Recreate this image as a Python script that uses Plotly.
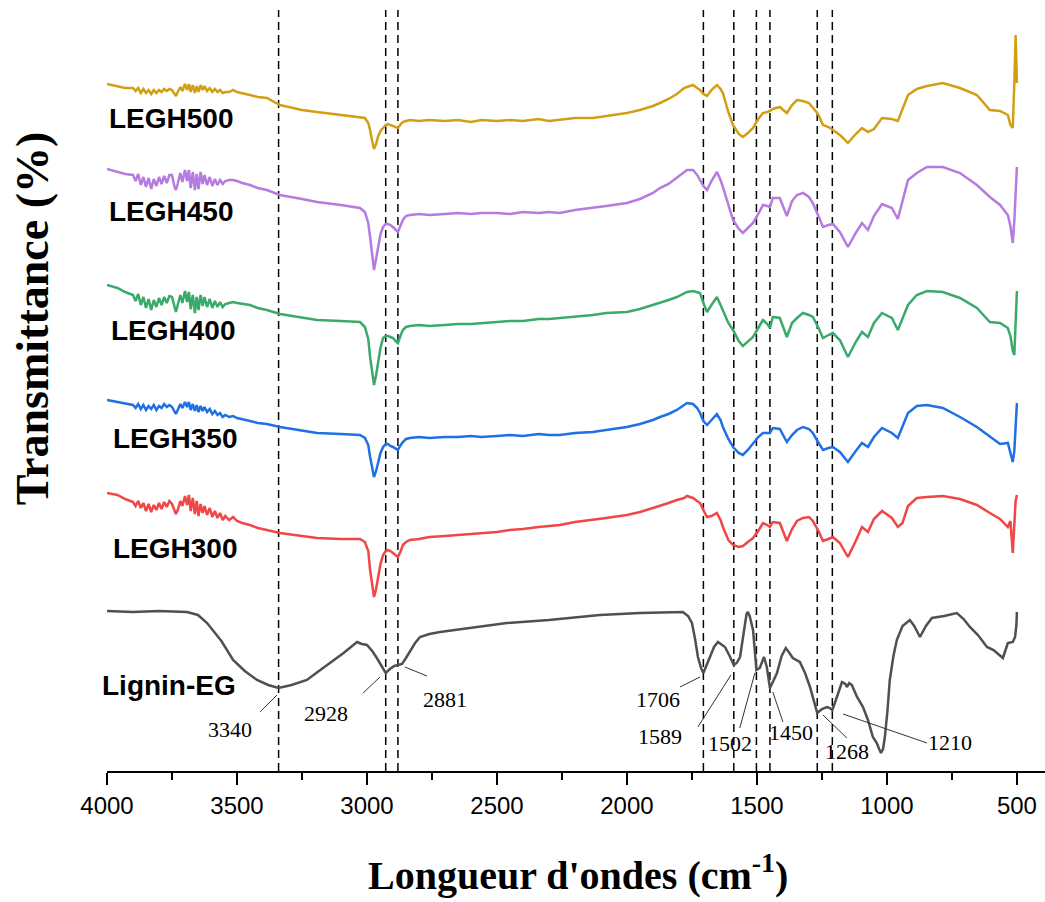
import plotly.graph_objects as go

# ---------------- data (wavenumber in cm-1, transmittance in arbitrary units) ----------------
noise_wn = [3890, 3880, 3870, 3860, 3850, 3840, 3830, 3820, 3810, 3800, 3790, 3780, 3770, 3760,
            3750, 3740, 3735, 3728, 3718, 3710, 3700, 3692, 3685, 3678, 3670, 3662, 3655, 3648,
            3640, 3632, 3625, 3615, 3605, 3595, 3585, 3575, 3565, 3555, 3545]

wn_legh = ([4000, 3960, 3930, 3900] + noise_wn +
           [3530, 3515, 3500, 3480, 3450, 3420, 3385, 3335, 3250, 3192, 3100, 3027, 3008, 2995, 2988,
            2980, 2973, 2965, 2958, 2948, 2938, 2928, 2919, 2910, 2900, 2890, 2881, 2870, 2862, 2850,
            2835, 2800, 2760, 2700, 2650, 2600, 2560, 2500, 2450, 2400, 2340, 2300, 2258, 2200, 2131,
            2080, 2000, 1950, 1900, 1873, 1840, 1808,
            1780, 1769, 1746, 1730, 1719, 1706, 1692,
            1675, 1654, 1640, 1631, 1610, 1592, 1570, 1554, 1535, 1515, 1495, 1477, 1460, 1450, 1439,
            1412, 1385, 1365, 1346, 1323, 1300, 1285, 1265, 1246, 1225, 1208, 1181, 1165, 1150, 1120,
            1096, 1073, 1050, 1019, 981, 958, 940, 919, 885, 846, 785, 719, 654, 604, 565, 535, 525,
            516, 510, 505, 500])

t_legh500 = [127, 125, 123, 123,
             120, 123, 118, 122, 118, 121, 117, 121, 118, 121, 119, 122, 120, 122,
             121, 117, 115, 119, 124, 120, 127, 121, 127, 119, 126, 118, 125, 119,
             126, 121, 125, 120, 123, 119, 122, 119, 121, 118, 119,
             119, 121, 119, 118, 116, 114, 113, 106, 101, 99, 96, 94, 93, 88, 81,
             70, 62, 67, 74, 80, 83, 86, 87, 86, 85, 84, 83, 87, 89, 90,
             91, 90, 91, 90, 91, 89, 91, 90, 91, 90, 92, 90, 91, 93, 93,
             95, 98, 101, 105, 108, 112, 117,
             123, 124, 126, 123, 121, 117, 115,
             121, 126, 122, 118, 99, 86, 77, 74, 78, 83, 92, 98, 99, 100, 102,
             104, 98, 106, 111, 110, 108, 103, 97, 86, 84, 81, 76, 72, 68, 77,
             83, 79, 82, 93, 92, 90, 102, 116, 122, 125, 128, 123, 116, 101, 100, 96, 86,
             83, 128, 176, 128]

t_legh450 = [142, 139, 137, 136,
             130, 137, 126, 134, 124, 133, 122, 132, 125, 134, 127, 135, 128, 136,
             136, 124, 121, 127, 138, 129, 141, 130, 141, 123, 139, 121, 137, 122,
             139, 127, 136, 126, 134, 125, 132, 126, 131, 127, 130,
             131, 131, 130, 128, 126, 123, 121, 116, 112, 109, 106, 103, 99, 88, 74,
             55, 41, 52, 64, 77, 84, 87, 87, 86, 84, 81, 79, 86, 91, 95,
             96, 97, 96, 97, 98, 97, 98, 98, 97, 99, 98, 99, 98, 101, 103,
             105, 108, 112, 118, 123, 127, 133,
             139, 141, 141, 136, 131, 125, 121,
             130, 139, 131, 124, 105, 91, 82, 78, 83, 88, 97, 106, 105, 104, 113,
             113, 95, 110, 116, 118, 114, 108, 96, 84, 86, 87, 79, 71, 64, 78,
             88, 81, 95, 107, 103, 92, 110, 131, 138, 144, 144, 138, 126, 114, 106, 96, 85,
             68, 90, 125, 144]

t_legh400 = [146, 143, 139, 136,
             130, 137, 126, 134, 123, 132, 121, 131, 124, 133, 126, 134, 128, 135,
             134, 122, 119, 126, 136, 128, 140, 129, 139, 122, 136, 118, 134, 121,
             136, 125, 134, 124, 132, 123, 130, 124, 129, 124, 127,
             128, 129, 128, 127, 126, 123, 121, 117, 113, 111, 110, 109, 104, 92, 74,
             58, 46, 56, 69, 83, 93, 95, 95, 94, 93, 90, 88, 96, 101, 104,
             105, 106, 105, 106, 107, 107, 108, 109, 110, 110, 112, 112, 113, 115, 116,
             118, 119, 122, 126, 128, 131, 134,
             138, 139, 140, 139, 138, 128, 119,
             126, 134, 126, 121, 108, 101, 90, 85, 89, 94, 103, 111, 107, 103, 114,
             113, 94, 108, 113, 118, 116, 114, 104, 93, 96, 98, 91, 82, 74, 89,
             99, 94, 108, 118, 113, 101, 113, 126, 136, 140, 139, 133, 123, 109, 108, 103, 95,
             80, 76, 110, 140]

t_legh350 = [141, 139, 137, 136,
             133, 137, 132, 136, 131, 135, 132, 136, 131, 135, 133, 137, 134, 136,
             134, 129, 127, 131, 137, 133, 139, 134, 139, 131, 137, 130, 136, 129,
             135, 130, 134, 129, 132, 127, 130, 126, 128, 124, 126,
             124, 125, 123, 122, 120, 118, 117, 114, 110, 108, 107, 106, 103, 96, 84,
             72, 64, 70, 78, 88, 94, 97, 97, 95, 94, 92, 91, 96, 99, 102,
             103, 104, 103, 104, 104, 105, 104, 105, 106, 105, 107, 106, 106, 108, 109,
             111, 114, 117, 121, 124, 127, 131,
             136, 138, 137, 133, 128, 120, 116,
             121, 127, 121, 114, 102, 94, 88, 86, 91, 98, 104, 108, 108, 108, 113,
             112, 99, 106, 111, 114, 112, 108, 99, 91, 93, 94, 89, 84, 79, 90,
             98, 94, 104, 113, 108, 103, 115, 128, 135, 136, 133, 124, 114, 104, 97, 98, 88,
             79, 90, 120, 138]

t_legh300 = [158, 156, 152, 149,
             145, 150, 143, 148, 140, 147, 139, 146, 141, 148, 142, 149, 144, 150,
             147, 140, 137, 141, 150, 145, 155, 146, 156, 140, 153, 137, 150, 135,
             147, 138, 145, 136, 143, 134, 140, 133, 138, 131, 135,
             131, 134, 130, 128, 126, 123, 121, 118, 115, 113, 112, 112, 109, 100, 81,
             65, 54, 62, 74, 87, 96, 100, 101, 100, 98, 96, 94, 100, 106, 109,
             111, 112, 114, 115, 116, 117, 118, 119, 121, 122, 124, 125, 126, 129, 131,
             133, 136, 139, 143, 145, 148, 151,
             153, 155, 153, 150, 148, 141, 134,
             135, 138, 131, 124, 111, 106, 104, 105, 109, 113, 120, 128, 126, 124, 129,
             128, 110, 122, 130, 133, 134, 130, 121, 110, 112, 114, 108, 101, 94, 110,
             124, 119, 132, 140, 133, 124, 128, 145, 153, 154, 155, 152, 146, 138, 132, 124, 130,
             98, 125, 150, 156]

wn_lignin = [4000, 3900, 3800, 3692, 3650, 3615, 3560, 3515, 3470, 3423, 3380, 3340, 3290, 3231,
             3190, 3142, 3090, 3038, 3020, 3000, 2980, 2962, 2945, 2928, 2912, 2895, 2881, 2865,
             2850, 2835, 2815, 2796, 2760, 2719, 2600, 2462, 2300, 2104, 1950, 1850, 1785, 1765,
             1750, 1738, 1727, 1715, 1706, 1695, 1681, 1665, 1650, 1637, 1623, 1605, 1589, 1578,
             1565, 1550, 1540, 1535, 1528, 1515, 1508, 1502, 1489, 1473, 1462, 1450, 1437, 1423,
             1405, 1389, 1375, 1362, 1335, 1315, 1296, 1280, 1268, 1250, 1231, 1220, 1210, 1195,
             1173, 1160, 1154, 1145, 1135, 1125, 1115, 1092, 1073, 1054, 1039, 1030, 1023, 1015,
             1008, 998, 989, 975, 962, 940, 912, 895, 873, 850, 827, 780, 731, 705, 681, 650, 615,
             590, 565, 554, 545, 535, 516, 507, 502, 500]
t_lignin = [160, 159, 160, 159, 156, 148, 130, 111, 100, 91, 86, 83, 86, 91,
            99, 108, 118, 129, 127, 126, 120, 113, 105, 98, 102, 105, 106, 107,
            113, 119, 128, 134, 137, 139, 143, 148, 151, 156, 158, 159, 159, 155,
            148, 132, 114, 103, 98, 105, 114, 124, 129, 127, 124, 115, 106, 108,
            114, 140, 157, 159, 155, 141, 120, 101, 103, 114, 104, 83, 90, 98,
            115, 123, 118, 113, 109, 98, 84, 70, 58, 62, 64, 63, 61, 72,
            89, 87, 84, 88, 86, 80, 74, 64, 51, 34, 28, 22, 18, 22,
            34, 60, 91, 115, 131, 145, 151, 145, 134, 145, 153, 155, 158, 152, 144, 136, 124,
            121, 116, 113, 120, 128, 129, 134, 146, 159]

series_names = ["LEGH500", "LEGH450", "LEGH400", "LEGH350", "LEGH300", "Lignin-EG"]
series_wn = [wn_legh, wn_legh, wn_legh, wn_legh, wn_legh, wn_lignin]
series_t = [t_legh500, t_legh450, t_legh400, t_legh350, t_legh300, t_lignin]

peaks = [3340, 2928, 2881, 1706, 1589, 1502, 1450, 1268, 1210]
x_ticks = [4000, 3500, 3000, 2500, 2000, 1500, 1000, 500]

# ---------------- styling / layout ----------------
offsets = [560, 460, 340, 230, 120, 0]
colors = ["#d29f14", "#b57be0", "#3aaa6a", "#1f6fe5", "#f04646", "#505050"]
label_pos = [(3752, 653), (3752, 560), (3744, 441), (3738, 333), (3737, 223), (3760, 86)]

fig = go.Figure()
for name, wn, t, off, col in zip(series_names, series_wn, series_t, offsets, colors):
    fig.add_trace(go.Scatter(x=wn, y=[v + off for v in t], mode="lines", name=name,
                             line=dict(color=col, width=2.5), showlegend=False))

for p in peaks:
    fig.add_shape(type="line", x0=p, x1=p, y0=0, y1=1, xref="x", yref="paper",
                  line=dict(color="black", width=1.5, dash="8px,5px"), layer="below")

# trace labels
for name, (lx, ly) in zip(series_names, label_pos):
    fig.add_annotation(x=lx, y=ly, xref="x", yref="y", text="<b>%s</b>" % name, showarrow=False,
                       xanchor="center", yanchor="middle",
                       font=dict(family="Liberation Sans, Arial", size=28, color="black"))

# peak labels with leader lines (text position, leader start, leader end)
peak_labels = [
    ("3340", (3527, 42), (3412, 59), (3346, 76)),
    ("2928", (3158, 58), (3015, 78), (2950, 94)),
    ("2881", (2700, 72), (2854, 104), (2769, 95)),
    ("1706", (1881, 72), (1796, 84), (1719, 94)),
    ("1589", (1873, 35), (1727, 44), (1600, 96)),
    ("1502", (1604, 28), (1566, 43), (1508, 98)),
    ("1450", (1369, 39), (1400, 49), (1439, 79)),
    ("1268", (1154, 20), (1154, 33), (1246, 56)),
    ("1210", (758, 29), (846, 28), (1169, 57)),
]
for txt, (tx, ty), (ax0, ay0), (ax1, ay1) in peak_labels:
    fig.add_shape(type="line", x0=ax0, y0=ay0, x1=ax1, y1=ay1, xref="x", yref="y",
                  line=dict(color="#333333", width=1))
    fig.add_annotation(x=tx, y=ty, xref="x", yref="y", text=txt, showarrow=False,
                       xanchor="center", yanchor="middle",
                       font=dict(family="Liberation Serif, Times New Roman", size=22, color="black"))

# axis titles
fig.add_annotation(x=0.502, y=-0.133, xref="paper", yref="paper", xanchor="center", yanchor="middle",
                   text="<b>Longueur d'ondes (cm<sup>-1</sup>)</b>", showarrow=False,
                   font=dict(family="Liberation Serif, Times New Roman", size=40, color="black"))
fig.add_annotation(x=-0.080, y=0.595, xref="paper", yref="paper", textangle=-90,
                   xanchor="center", yanchor="middle",
                   text="<b>Transmittance (%)</b>", showarrow=False,
                   font=dict(family="Liberation Serif, Times New Roman", size=46, color="black"))

fig.update_layout(
    width=1045, height=902,
    margin=dict(l=107, r=0, t=10, b=131),
    paper_bgcolor="white", plot_bgcolor="white",
    xaxis=dict(range=[4000, 392], tickmode="array", tickvals=x_ticks,
               ticktext=[str(v) for v in x_ticks],
               ticks="outside", ticklen=12, tickwidth=2, tickcolor="black",
               showline=True, linewidth=2, linecolor="black", showgrid=False, zeroline=False,
               tickfont=dict(family="Liberation Sans, Arial", size=24, color="black"),
               minor=dict(tickvals=[3750, 3250, 2750, 2250, 1750, 1250, 750], ticks="outside",
                          ticklen=7, tickwidth=1.5, tickcolor="black")),
    yaxis=dict(range=[0, 761], showline=False, showticklabels=False, showgrid=False,
               zeroline=False, ticks=""),
)

fig.write_html("out.html")
